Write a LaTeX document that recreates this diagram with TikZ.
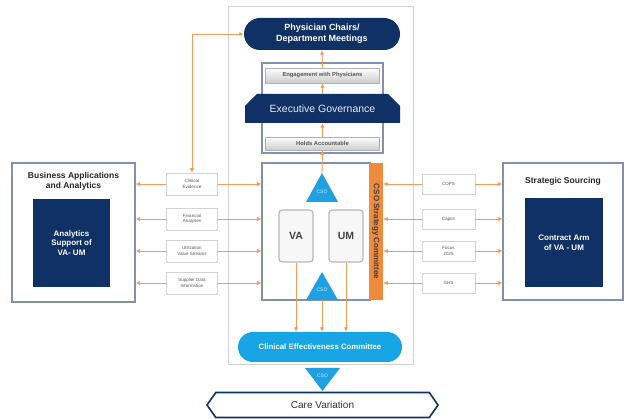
\documentclass[tikz,border=0pt]{standalone}
\usepackage{fontspec}
\setmainfont{Liberation Sans}
\usetikzlibrary{shapes.misc,shapes.symbols,arrows.meta}
\definecolor{navy}{HTML}{0F3166}
\definecolor{ltblue}{HTML}{18A5E6}
\definecolor{csoblue}{HTML}{1FA0E2}
\definecolor{orng}{HTML}{F08A3C}
\definecolor{oline}{HTML}{F29B5A}
\definecolor{bgray}{HTML}{8391AE}
\definecolor{txtgray}{HTML}{555555}
\tikzset{
  oarrow/.style={draw=oline, line width=0.9pt, -{Latex[length=4.5pt,width=4.5pt]}},
  oboth/.style={draw=oline, line width=0.9pt, {Latex[length=4.5pt,width=4.5pt]}-{Latex[length=4.5pt,width=4.5pt]}},
  navybox/.style={fill=navy, text=white, font=\bfseries\fontsize{8}{9.6}\selectfont, align=center, inner sep=0pt},
  bigbox/.style={draw=bgray, line width=1.2pt, fill=white, inner sep=0pt},
  lbl/.style={draw=gray!35, line width=0.6pt, fill=white, text=txtgray, font=\fontsize{4.5}{5.4}\selectfont, align=center, inner sep=0pt},
  graybar/.style={draw=gray!60, line width=0.5pt, top color=white, bottom color=gray!40, text=txtgray, font=\bfseries\fontsize{5.8}{6.5}\selectfont, inner sep=0pt},
  csotxt/.style={text=white!80!csoblue, font=\fontsize{5}{6}\selectfont, inner sep=0pt},
  vabox/.style={draw=gray!55, line width=1.2pt, fill=gray!6, rounded corners=3pt, text=txtgray!80!black, font=\bfseries\fontsize{10.5}{12}\selectfont, inner sep=0pt, minimum width=34pt, minimum height=52pt},
}
\begin{document}
\begin{tikzpicture}[x=1pt,y=-1pt]
\useasboundingbox (0,0) rectangle (624,419);
\fill[white] (0,0) rectangle (624,419);
% central panel
\node[draw=gray!35, line width=0.7pt, fill=white, minimum width=185pt, minimum height=358pt, inner sep=0pt] (panel) at (320.5,185) {};
% top
\node[fill=navy, rounded corners=16pt, minimum width=156pt, minimum height=32pt, inner sep=0pt, text=white, font=\bfseries\fontsize{9}{10.8}\selectfont, align=center] (phys) at (322,34) {Physician Chairs/\\Department Meetings};
\node[draw=bgray, line width=1.1pt, fill=white, minimum width=121pt, minimum height=90pt, inner sep=0pt] (govframe) at (322.5,108) {};
\node[graybar, minimum width=114pt, minimum height=15pt] (eng) at (322.5,75.5) {Engagement with Physicians};
\node[chamfered rectangle, chamfered rectangle corners={north west,north east}, chamfered rectangle xsep=10pt, chamfered rectangle ysep=8pt, fill=navy, text=white!90!navy, font=\fontsize{10.5}{12}\selectfont, minimum width=155pt, minimum height=29pt, inner sep=0pt] (eg) at (322.5,108.5) {Executive Governance};
\node[graybar, minimum width=114pt, minimum height=13pt] (hold) at (322.5,143.5) {Holds Accountable};
% core
\node[bigbox, line width=1.1pt, minimum width=108pt, minimum height=137pt] (core) at (316,231.5) {};
\node[fill=orng, minimum width=14pt, minimum height=137pt, inner sep=0pt] (csobar) at (376,231.5) {};
\node[rotate=-90, text=black!75, font=\bfseries\fontsize{8}{9}\selectfont, inner sep=0pt] (csotext) at (csobar.center) {CSO Strategy Committee};
\fill[csoblue] (306,202) -- (322,173) -- (338,202) -- cycle;
\coordinate (t1apex) at (322,173);
\node[csotxt] (cso1) at (322,192) {CSO};
\fill[csoblue] (306,300) -- (322,272) -- (338,300) -- cycle;
\coordinate (t2base) at (322,300);
\node[csotxt] (cso2) at (322,290) {CSO};
\node[vabox] (va) at (296,236) {VA};
\node[vabox] (um) at (346,236) {UM};
% CEC
\node[fill=ltblue, rounded corners=15pt, minimum width=164pt, minimum height=30pt, inner sep=0pt, text=white, font=\bfseries\fontsize{7.8}{9}\selectfont] (cec) at (320,347) {Clinical Effectiveness Committee};
% care variation
\fill[csoblue] (305,368) -- (340,368) -- (322.5,391) -- cycle;
\node[csotxt] (cso3) at (322.5,376) {CSO};
\node[signal, signal to=west and east, signal pointer angle=110, draw=navy, line width=1.6pt, fill=white, minimum width=231pt, minimum height=25pt, inner sep=0pt, text=black!80, font=\fontsize{10}{12}\selectfont] (care) at (322.5,405) {Care Variation};
% left box
\node[bigbox, minimum width=123pt, minimum height=139pt] (ba) at (73.5,232.5) {};
\node[text=black!85, font=\bfseries\fontsize{8.5}{10}\selectfont, align=center, inner sep=0pt] (batitle) at (73.5,181) {Business Applications\\and Analytics};
\node[navybox, minimum width=77pt, minimum height=88pt] (bain) at (71.5,243) {Analytics\\Support of\\VA- UM};
% right box
\node[bigbox, minimum width=120pt, minimum height=137pt] (ss) at (563,231.5) {};
\node[text=black!85, font=\bfseries\fontsize{8.5}{10}\selectfont, inner sep=0pt] (sstitle) at (563,181) {Strategic Sourcing};
\node[navybox, minimum width=78pt, minimum height=89pt] (ssin) at (564,242.5) {Contract Arm\\of VA - UM};
% left labels
\node[lbl, minimum width=51pt, minimum height=22pt] (l1) at (192,184) {Clinical\\Evidence};
\node[lbl, minimum width=51pt, minimum height=22pt] (l2) at (192,219) {Financial\\Analyses};
\node[lbl, minimum width=51pt, minimum height=22pt] (l3) at (192,251) {Utilization\\Value Streams};
\node[lbl, minimum width=51pt, minimum height=22pt] (l4) at (192,283) {Supplier Data\\Information};
% right labels
\node[lbl, minimum width=53pt, minimum height=20pt] (r1) at (448.5,184) {COPS};
\node[lbl, minimum width=53pt, minimum height=20pt] (r2) at (448.5,219) {Captis};
\node[lbl, minimum width=53pt, minimum height=20pt] (r3) at (448.5,251) {Focus\\2025};
\node[lbl, minimum width=53pt, minimum height=20pt] (r4) at (448.5,283) {GHS};
% connectors
\foreach \n in {l1,l2,l3,l4}{
  \draw[oarrow] (\n.west) -- (ba.east |- \n.west);
  \draw[oarrow] (\n.east) -- (core.west |- \n.east);
}
\foreach \n in {r1,r2,r3,r4}{
  \draw[oarrow] (\n.west) -- (csobar.east |- \n.west);
  \draw[oarrow] (\n.east) -- (ss.west |- \n.east);
}
\draw[oboth] (l1.north) |- (phys.west);
\draw[oarrow] (eng.north) -- (phys.south);
\draw[oarrow] (eg.north) -- (eng.south);
\draw[oarrow] (hold.north) -- (eg.south);
\draw[oarrow] (t1apex) -- (hold.south);
\draw[oarrow] (va.south) -- (va.south |- cec.north);
\draw[oarrow] (t2base) -- (t2base |- cec.north);
\draw[oarrow] (um.south) -- (um.south |- cec.north);
\end{tikzpicture}
\end{document}
